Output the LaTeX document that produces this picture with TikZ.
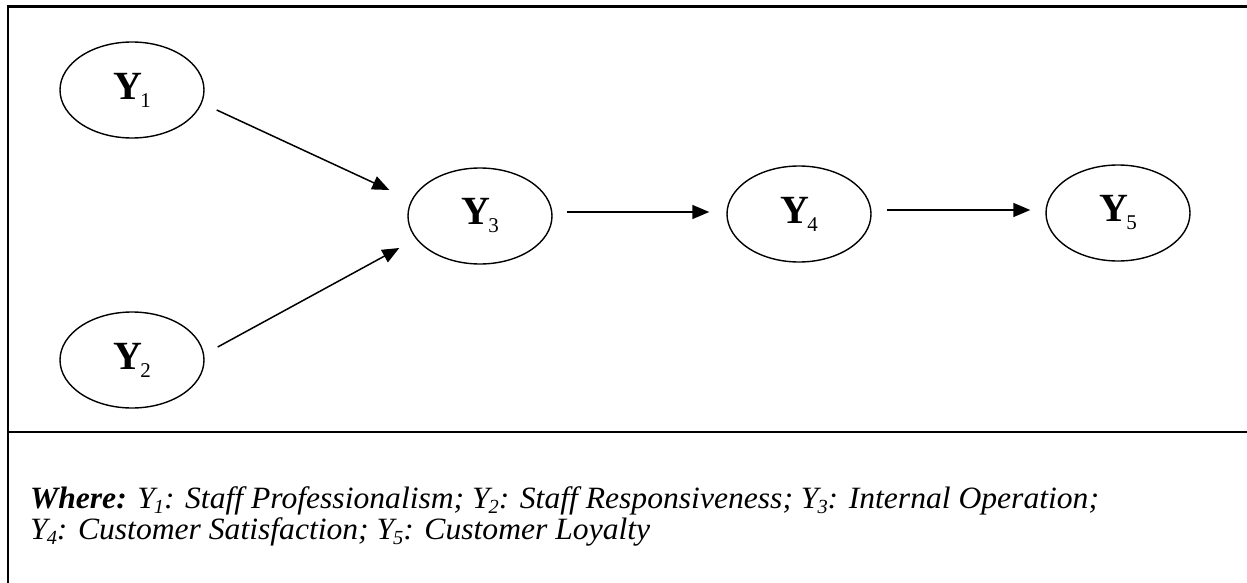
\documentclass[tikz,border=0pt]{standalone}
\usepackage{fontspec}
\setmainfont{Liberation Serif}
\usetikzlibrary{shapes.geometric,arrows.meta}
\tikzset{
  var/.style={draw,ellipse,line width=1.4pt,minimum width=144pt,minimum height=96pt,inner sep=0pt},
  arr/.style={line width=1.5pt,-{Triangle[length=17pt,width=14pt]}},
  frameline/.style={line width=2.8pt},
  legend/.style={anchor=base west,inner sep=0pt,font=\fontsize{31}{34}\selectfont\itshape}
}
\newcommand{\yv}[1]{{\fontsize{40}{40}\selectfont\bfseries Y}\kern-1.5pt\raisebox{-8pt}{\fontsize{21}{21}\selectfont #1}}
\newcommand{\ys}[1]{\textit{Y}\kern-1pt\raisebox{-5pt}{\fontsize{20}{20}\selectfont\itshape #1}}
\begin{document}
\begin{tikzpicture}[x=1pt,y=-1pt]
\useasboundingbox (0,0) rectangle (1247,583);
\coordinate (tr) at (1247,6.5);
\coordinate (tl) at (8,6.5);
\coordinate (bl) at (8,583);
\coordinate (sl) at (8,432);
\coordinate (sr) at (1247,432);
\draw[frameline] (tr) -- (tl) -- (bl);
\draw[frameline] (sl) -- (sr);

\node[var] (Y1) at (132,90) {\yv{1}};
\node[var] (Y2) at (132,360) {\yv{2}};
\node[var] (Y3) at (480,216) {\yv{3}};
\node[var] (Y4) at (799,214) {\yv{4}};
\node[var] (Y5) at (1118,213) {\yv{5}};

\draw[arr] ([shift={(12,20)}]Y1.east) -- ([shift={(-18,-26)}]Y3.west);
\draw[arr] ([shift={(13,-13)}]Y2.east) -- ([shift={(-8,32)}]Y3.west);
\draw[arr] ([shift={(14,-4)}]Y3.east) -- ([shift={(-17,-2)}]Y4.west);
\draw[arr] ([shift={(15,-4)}]Y4.east) -- ([shift={(-15,-3)}]Y5.west);

\node[legend] (L1) at (30,508) {\scalebox{1.02}[1]{\textbf{Where:} \ys{1}: Staff Professionalism; \ys{2}: Staff Responsiveness; \ys{3}: Internal Operation;}};
\node[legend] (L2) at (30,539) {\scalebox{1.02}[1]{\ys{4}: Customer Satisfaction; \ys{5}: Customer Loyalty}};
\end{tikzpicture}
\end{document}
